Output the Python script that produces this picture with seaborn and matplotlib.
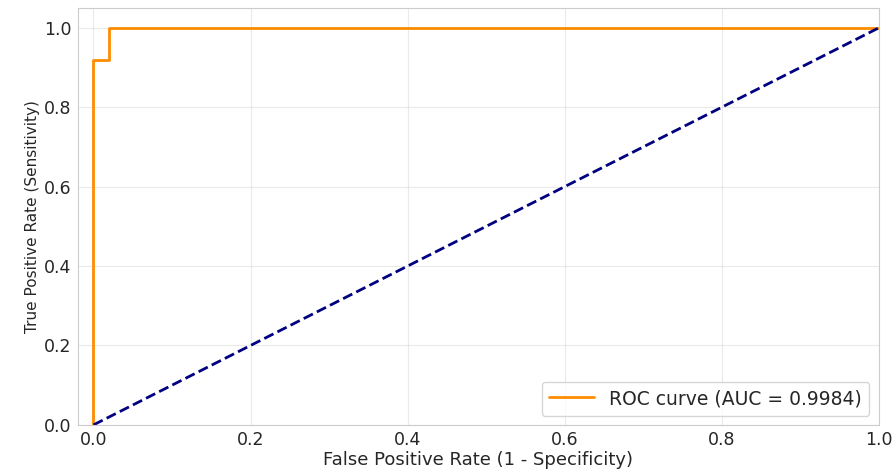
import matplotlib
matplotlib.use("Agg")
import matplotlib.pyplot as plt
import numpy as np
import pandas as pd
import seaborn as sns

# ROC points
fpr = [0.0, 0.0, 0.02, 0.02, 1.0]
tpr = [0.0, 0.92, 0.92, 1.0, 1.0]
chance = [0.0, 1.0]
auc_value = 0.9984

sns.set_style("whitegrid")
plt.rcParams['font.family'] = ['DejaVu Sans']

fig = plt.figure(figsize=(8.94, 4.70), dpi=100)
ax = fig.add_axes([0.087, 0.096, 0.896, 0.887])

roc_df = pd.DataFrame(data={"fpr": fpr, "tpr": tpr})
sns.lineplot(data=roc_df, x="fpr", y="tpr", sort=False, estimator=None,
             color="darkorange", linewidth=2,
             label="ROC curve (AUC = {:.4f})".format(auc_value), ax=ax)
ax.plot(chance, chance, color="navy", linewidth=2, linestyle="--")

ax.set_xlim((-0.02, 1.0))
ax.set_ylim((0.0, 1.05))
ax.set_xticks(np.arange(0, 1.01, 0.2))
ax.set_yticks(np.arange(0, 1.01, 0.2))
ax.grid(alpha=0.4)
ax.tick_params(labelsize=12.5, pad=1)
ax.set_xlabel("False Positive Rate (1 - Specificity)", fontsize=13, labelpad=1)
ax.set_ylabel("True Positive Rate (Sensitivity)", fontsize=11, labelpad=3)
ax.legend(loc="lower right", fontsize=13.5, handlelength=2.4)

fig.savefig("out.png", dpi=100)
